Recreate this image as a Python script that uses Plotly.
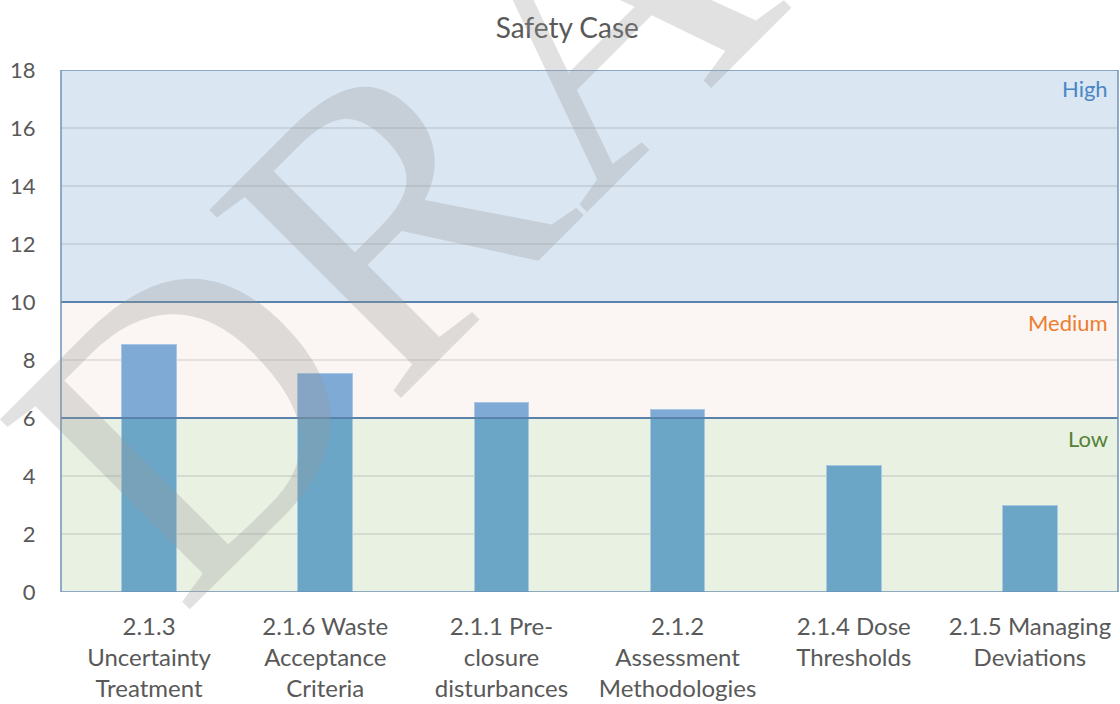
import plotly.graph_objects as go

categories = ["2.1.3<br>Uncertainty<br>Treatment", "2.1.6 Waste<br>Acceptance<br>Criteria",
              "2.1.1 Pre-<br>closure<br>disturbances", "2.1.2<br>Assessment<br>Methodologies",
              "2.1.4 Dose<br>Thresholds", "2.1.5 Managing<br>Deviations"]
values = [8.55, 7.55, 6.55, 6.3, 4.35, 3.0]
low_limit = 6
med_limit = 10
y_max = 18
y_ticks = [0, 2, 4, 6, 8, 10, 12, 14, 16, 18]

base_part = [min(v, low_limit) for v in values]
top_part = [max(v - low_limit, 0) for v in values]

FONT = "Lato, 'Open Sans', sans-serif"
GREY = "#595959"

fig = go.Figure()
fig.add_trace(go.Bar(x=categories, y=base_part, marker=dict(color="#6BA6C7", line=dict(color="#A8CAE3", width=1)),
                     showlegend=False, hoverinfo="skip"))
fig.add_trace(go.Bar(x=categories, y=top_part, marker=dict(color="#7FAAD6", line=dict(color="#A8C6E6", width=1)),
                     showlegend=False, hoverinfo="skip"))

# bands
fig.add_shape(type="rect", xref="paper", x0=0, x1=1, yref="y", y0=med_limit, y1=y_max,
              fillcolor="#DAE6F2", line_width=0, layer="below")
fig.add_shape(type="rect", xref="paper", x0=0, x1=1, yref="y", y0=low_limit, y1=med_limit,
              fillcolor="#FBF6F3", line_width=0, layer="below")
fig.add_shape(type="rect", xref="paper", x0=0, x1=1, yref="y", y0=0, y1=low_limit,
              fillcolor="#E9F1E3", line_width=0, layer="below")
for yv in (low_limit, med_limit):
    fig.add_shape(type="line", xref="paper", x0=0, x1=1, yref="y", y0=yv, y1=yv,
                  line=dict(color="#5A82AB", width=2), layer="above")
fig.add_shape(type="rect", xref="paper", x0=0, x1=1, yref="y", y0=0, y1=y_max,
              line=dict(color="#6F93B8", width=1.5), layer="above")

# band labels
fig.add_annotation(x=0.992, xref="paper", y=y_max - 0.65, yref="y", text="High", showarrow=False,
                   xanchor="right", font=dict(family=FONT, size=22, color="#4A86C5"))
fig.add_annotation(x=0.992, xref="paper", y=med_limit - 0.7, yref="y", text="Medium", showarrow=False,
                   xanchor="right", font=dict(family=FONT, size=22, color="#ED7D31"))
fig.add_annotation(x=0.992, xref="paper", y=low_limit - 0.7, yref="y", text="Low", showarrow=False,
                   xanchor="right", font=dict(family=FONT, size=22, color="#548235"))

# watermark
fig.add_annotation(x=0.471, xref="paper", y=1.048, yref="paper", text="DRAFT", showarrow=False,
                   xanchor="center", yanchor="middle",
                   textangle=-45, font=dict(family="Liberation Serif, serif", size=410,
                                            color="rgba(150,150,150,0.29)"))

fig.update_layout(
    width=1120, height=704,
    margin=dict(l=61, r=2, t=70, b=112),
    paper_bgcolor="white", plot_bgcolor="white",
    barmode="stack", bargap=0.69,
    title=dict(text="Safety Case", x=0.5065, xanchor="center", y=0.96, yanchor="middle",
               font=dict(family=FONT, size=28, color=GREY)),
    font=dict(family=FONT, color=GREY),
)
fig.update_xaxes(showgrid=False, showline=False, ticks="outside", ticklen=13, tickcolor="rgba(0,0,0,0)",
                 tickfont=dict(family=FONT, size=24, color=GREY))
fig.update_yaxes(range=[0, y_max], tickvals=y_ticks, showgrid=True, gridcolor="rgba(80,80,80,0.13)",
                 gridwidth=1.5, zeroline=False, showline=False, ticks="outside", ticklen=20,
                 tickcolor="rgba(0,0,0,0)", tickfont=dict(family=FONT, size=22, color=GREY))

fig.write_html("out.html", config={"displayModeBar": False},
               post_script="document.body.style.margin='0';document.body.style.overflow='hidden';")
